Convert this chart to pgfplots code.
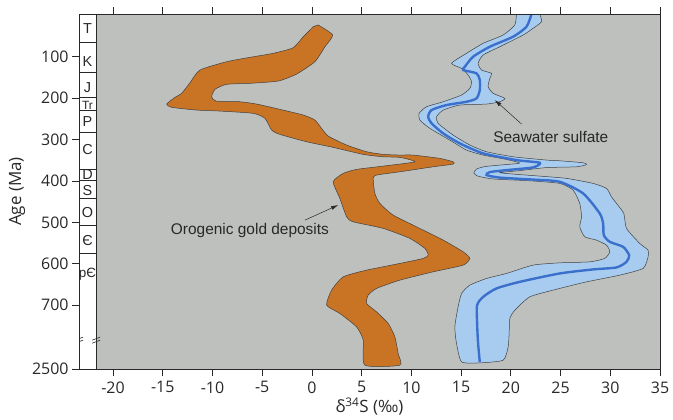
\documentclass[border=0pt]{standalone}
\usepackage{fontspec}
\setmainfont{Liberation Sans}
\newfontfamily\tickfont{Open Sans}
\usepackage{pgfplots}
\pgfplotsset{compat=1.18}
\usetikzlibrary{arrows.meta}
\definecolor{bggray}{RGB}{190,192,189}
\definecolor{ora}{RGB}{201,116,36}
\definecolor{lblue}{RGB}{168,204,240}
\definecolor{dblue}{RGB}{58,112,204}
\definecolor{txt}{RGB}{40,40,40}
\begin{document}
\begin{tikzpicture}
\useasboundingbox (0,0) rectangle (673bp,420bp);
\begin{axis}[
  at={(79bp,51bp)}, anchor=south west,
  width=581bp, height=355bp, scale only axis,
  xmin=-23.42, xmax=35, ymin=-3.14, ymax=854.3,
  y dir=reverse,
  axis on top,
  axis line style={draw=txt, line width=0.8pt},
  every tick/.style={draw=txt, line width=0.8pt},
  xtick={-20,-15,...,35},
  ytick={100,200,300,400,500,600,700,854.3},
  yticklabels={100,200,300,400,500,600,700,2500},
  xtick pos=both,
  ytick pos=left,
  tick align=outside,
  major tick length=7bp,
  /pgf/number format/assume math mode=true,
  ticklabel style={font=\tickfont\fontsize{16}{16}\selectfont, text=txt},
  xticklabel style={yshift=-2bp},
  xlabel={δ\textsuperscript{34}S (‰)},
  ylabel={Age (Ma)},
  label style={font=\tickfont\fontsize{17}{17}\selectfont, text=txt},
  xlabel style={yshift=2bp},
  clip=true,
]
\fill[bggray] (axis cs:-21.7,-3.14) rectangle (axis cs:35,854.3);

\addplot[fill=ora, draw=black!75, line width=0.5pt, smooth, tension=0.35] coordinates {
(0.63,23.4) (2.08,47.6) (1.31,75.9) (0.30,112.1) (-1.54,141.9) (-3.39,158.8)
(-6.23,164.3) (-8.57,166.7) (-9.75,178.8) (-10.08,196.7) (-9.65,207.1) (-7.24,208.8)
(-5.56,214.4) (-3.22,227.2) (-0.87,240.9) (0.30,253.0) (0.97,273.1) (1.64,291.7)
(3.49,313.4) (5.50,329.6) (7.17,335.9) (8.84,337.6) (10.18,337.6) (12.86,345.6)
(14.20,353.8) (14.20,359.4) (12.19,365.9) (8.84,378.0) (6.50,385.9) (6.16,393.9)
(6.33,430.2) (6.83,454.3) (8.17,482.6) (10.52,510.9) (13.20,543.0) (15.21,571.3)
(15.88,587.2) (15.21,603.4) (12.19,619.6) (8.84,639.7) (6.50,659.7) (5.66,675.9)
(5.50,696.0) (6.50,716.3) (7.67,744.3) (8.34,776.7) (8.67,816.8) (8.84,845.1)
(5.33,845.1) (5.16,784.7) (4.49,752.5) (2.81,720.2) (1.48,700.1) (1.98,663.9)
(3.15,631.7) (5.50,615.5) (8.84,599.3) (11.19,587.2) (11.69,579.3) (11.36,563.1)
(9.85,538.9) (7.17,514.7) (4.15,498.8) (3.49,486.7) (2.81,442.2) (2.14,402.1)
(3.15,381.8) (4.49,372.2) (7.17,364.2) (10.35,353.8) (8.84,343.2) (7.17,341.7)
(5.16,335.9) (2.14,319.0) (-0.53,305.5) (-3.22,287.6) (-4.05,277.2) (-4.72,248.9)
(-5.90,236.8) (-9.25,231.3) (-11.59,228.9) (-14.10,222.3) (-14.60,214.4) (-13.77,198.2)
(-13.10,188.5) (-12.26,162.9) (-11.26,132.2) (-8.57,112.1) (-6.23,101.5) (-3.89,91.8)
(-1.88,78.3) (-0.87,51.7) (0.13,27.5)
} -- cycle;

\addplot[fill=lblue, draw=black!75, line width=0.5pt, smooth, tension=0.35] coordinates {
(20.57,-3.14) (20.40,23.4) (19.23,47.6) (17.22,67.7) (15.55,91.8) (14.04,116.0)
(15.08,128.6) (15.71,144.3) (16.05,160.5) (15.88,176.4) (15.05,192.6) (13.20,208.8)
(11.53,220.9) (10.78,236.8) (10.85,253.0) (11.86,273.1) (13.87,301.4) (15.55,325.5)
(17.22,337.6) (19.40,347.3) (20.90,356.9) (18.89,361.8) (17.39,365.4) (16.55,371.4)
(16.28,381.1) (16.68,388.4) (17.89,394.4) (18.89,396.3) (21.91,399.7) (24.92,406.0)
(26.26,422.2) (26.93,454.3) (27.11,486.7) (26.93,510.9) (27.44,535.0) (28.61,543.0)
(29.62,555.1) (29.95,571.3) (29.45,587.2) (27.94,595.5) (24.92,597.9) (22.24,603.4)
(19.57,623.5) (17.56,635.6) (15.88,651.8) (15.05,671.8) (14.70,704.2) (14.37,752.5)
(14.54,792.7) (15.05,837.1) (16.88,839.5)
(19.23,833.0) (19.73,800.9) (19.83,768.5) (19.90,732.2) (20.40,712.2) (21.91,680.0)
(24.25,663.8) (27.61,643.8) (30.95,627.6) (33.30,611.4) (33.80,583.4) (33.80,567.2)
(32.96,551.0) (31.63,514.7) (31.36,478.5) (30.62,454.3) (30.12,438.4) (29.62,418.1)
(28.27,406.0) (25.60,393.9) (22.91,388.4) (20.23,383.5) (18.89,379.9) (20.90,375.1)
(23.59,367.8) (26.60,365.9) (27.61,360.6) (27.27,356.2) (24.92,351.4) (23.59,349.7)
(20.23,341.7) (17.56,329.6) (15.88,313.4) (14.20,289.3) (12.69,261.0) (12.53,245.0)
(13.20,228.9) (14.87,216.8) (17.56,214.4) (18.89,208.8) (19.40,200.6) (18.22,188.5)
(17.72,172.5) (17.89,152.2) (18.06,140.2) (17.06,132.2) (16.71,116.0) (17.22,95.9)
(18.89,75.9) (21.24,47.6) (22.24,31.4) (23.09,15.5) (22.91,-3.14)
} -- cycle;

\addplot[draw=dblue, line width=2.4pt, smooth, tension=0.4] coordinates {
(22.08,-3.14) (21.58,27.5) (20.23,51.7) (17.89,75.9) (16.21,100.0) (15.38,124.2)
(15.21,132.2) (16.55,140.2) (16.88,156.4) (16.88,180.5) (16.55,200.6) (15.55,208.8)
(13.54,216.8) (12.03,228.9) (11.69,245.0) (12.03,261.0) (13.20,285.2) (14.87,309.3)
(17.22,333.5) (20.57,349.7) (22.91,356.2) (22.24,367.3) (19.57,373.9) (17.89,378.7)
(17.56,385.9) (18.89,392.0) (22.24,396.8) (24.92,402.1) (27.27,430.2) (28.94,478.5)
(29.28,502.7) (29.35,530.9) (29.95,547.1) (31.29,559.2) (31.89,579.3) (31.63,595.5)
(30.62,609.0) (28.27,613.8) (24.92,623.5) (20.90,643.8) (18.56,659.7) (17.22,680.0)
(16.61,700.1) (16.61,744.3) (16.71,792.7) (16.88,837.1)
};

% period strip
\draw[txt, line width=0.8pt] (axis cs:-21.7,-3.14) -- (axis cs:-21.7,854.3);
\draw[txt, line width=0.6pt]
  (axis cs:-23.42,66.2) -- (axis cs:-21.7,66.2)
  (axis cs:-23.42,137.0) -- (axis cs:-21.7,137.0)
  (axis cs:-23.42,198.2) -- (axis cs:-21.7,198.2)
  (axis cs:-23.42,228.9) -- (axis cs:-21.7,228.9)
  (axis cs:-23.42,283.7) -- (axis cs:-21.7,283.7)
  (axis cs:-23.42,372.2) -- (axis cs:-21.7,372.2)
  (axis cs:-23.42,399.7) -- (axis cs:-21.7,399.7)
  (axis cs:-23.42,440.8) -- (axis cs:-21.7,440.8)
  (axis cs:-23.42,506.8) -- (axis cs:-21.7,506.8)
  (axis cs:-23.42,575.2) -- (axis cs:-21.7,575.2);
\begin{scope}[every node/.style={font=\fontsize{14.5}{14.5}\selectfont, text=txt, inner sep=0pt}]
\node at (axis cs:-22.56,33.1) {T};
\node at (axis cs:-22.56,112.1) {K};
\node at (axis cs:-22.56,174) {J};
\node[font=\fontsize{12}{12}\selectfont] at (axis cs:-22.56,217.5) {Tr};
\node at (axis cs:-22.56,257.1) {P};
\node at (axis cs:-22.56,323.1) {C};
\node at (axis cs:-22.56,383.5) {D};
\node at (axis cs:-22.56,423.9) {S};
\node at (axis cs:-22.56,476.1) {O};
\node at (axis cs:-22.56,544.7) {Є};
\node[font=\fontsize{13.5}{13.5}\selectfont] at (axis cs:-22.56,625.2) {pЄ};
\end{scope}

% axis break marks
\draw[txt, line width=0.6pt] (axis cs:-23.42,784.7) ++(-4bp,-3bp) -- ++(8bp,3bp) ++(-8bp,0bp) -- ++(8bp,3bp);
\draw[txt, line width=0.6pt] (axis cs:-21.7,784.7) ++(-4bp,-3bp) -- ++(8bp,3bp) ++(-8bp,0bp) -- ++(8bp,3bp);

% annotations
\draw[-{Latex[length=7bp,width=4bp]}, txt, line width=0.5pt] (axis cs:21.08,262.7) -- (axis cs:18.39,204.7);
\node[font=\fontsize{15.5}{15.5}\selectfont, text=txt] at (axis cs:24.02,294.1) {Seawater sulfate};
\draw[-{Latex[length=7bp,width=4bp]}, txt, line width=0.5pt] (axis cs:-0.70,494.7) -- (axis cs:2.64,458.4);
\node[font=\fontsize{15.5}{15.5}\selectfont, text=txt] at (axis cs:-6.23,518.8) {Orogenic gold deposits};
\end{axis}
\end{tikzpicture}
\end{document}
